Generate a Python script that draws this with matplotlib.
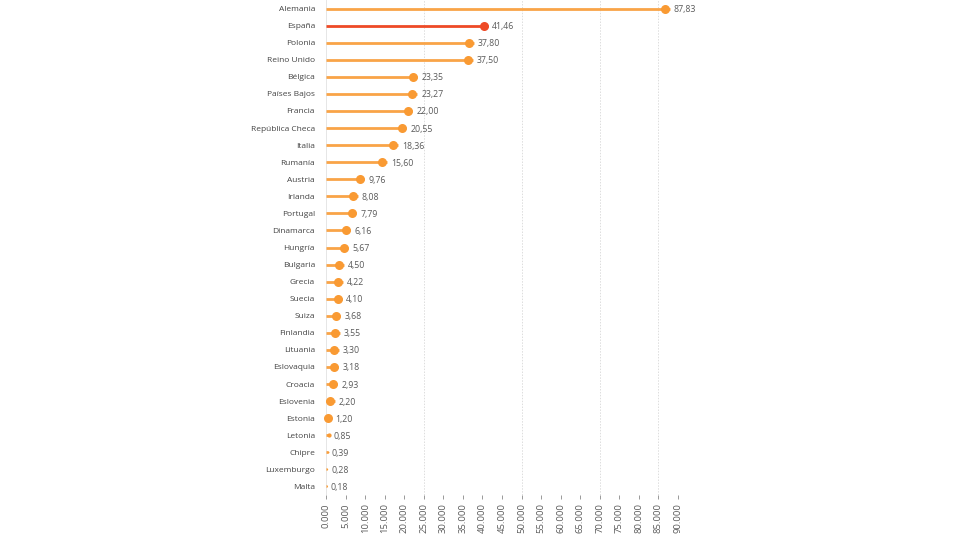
import matplotlib
matplotlib.use("Agg")
import matplotlib.pyplot as plt
from matplotlib.transforms import ScaledTranslation

countries = ["Alemania", "España", "Polonia", "Reino Unido", "Bélgica", "Países Bajos",
             "Francia", "República Checa", "Italia", "Rumanía", "Austria", "Irlanda",
             "Portugal", "Dinamarca", "Hungría", "Bulgaria", "Grecia", "Suecia", "Suiza",
             "Finlandia", "Lituania", "Eslovaquia", "Croacia", "Eslovenia", "Estonia",
             "Letonia", "Chipre", "Luxemburgo", "Malta"]
values = [87.83, 41.46, 37.80, 37.50, 23.35, 23.27, 22.00, 20.55, 18.36, 15.60, 9.76,
          8.08, 7.79, 6.16, 5.67, 4.50, 4.22, 4.10, 3.68, 3.55, 3.30, 3.18, 2.93, 2.20,
          1.20, 0.85, 0.39, 0.28, 0.18]
highlight = "España"
xticks = list(range(0, 91, 5))
xticklabels = [f"{t}.000" for t in xticks]
grid_at = [25, 50, 70, 85, 90]

ORANGE = "#F99A33"
LINE_ORANGE = "#F9A447"
RED = "#EE4A26"
TXT = "#5a5a5a"
CAT_TXT = "#444444"

plt.rcParams['font.family'] = ['Open Sans', 'DejaVu Sans']

fig = plt.figure(figsize=(9.8, 5.6), dpi=100)
ax_w_px = 678 - 326
ax = fig.add_axes([326/980, 1-495/560, ax_w_px/980, 495/560])
XMAX = 90
pts_per_unit = ax_w_px / XMAX * 72 / 100

n = len(countries)
ys = list(range(n))
for y, c, v in zip(ys, countries, values):
    col = RED if c == highlight else ORANGE
    lcol = RED if c == highlight else LINE_ORANGE
    ax.plot([0, v], [y, y], color=lcol, lw=2.0, solid_capstyle='butt', zorder=2)
    d = 6.5 if v >= 1.0 else max(0.8, v * 3.6)   # marker diameter, points
    if v >= 1.0:
        back = min(d / 2, max(v * pts_per_unit - 1.6, 0))
    else:
        back = 0
    shift = ScaledTranslation(-back / 72, 0, fig.dpi_scale_trans)
    ax.plot([v], [y], 'o', color=col, ms=d, mew=0, zorder=3,
            transform=ax.transData + shift, clip_on=False)
    ax.annotate(f"{v:.2f}".replace(".", ","), (v, y), xytext=(3, 0),
                textcoords='offset points', va='center_baseline', ha='left',
                fontsize=6.3, color=TXT, annotation_clip=False)

for g in grid_at:
    ax.axvline(g, color="#dddddd", lw=0.7, ls=(0, (1.5, 1.5)), zorder=0)
ax.axvline(0, color="#e6e6e6", lw=0.7, zorder=0)

ax.set_xlim(0, XMAX)
ax.set_ylim(n - 0.5, -0.5)
ax.set_yticks(ys)
ax.set_yticklabels(countries, fontsize=6.0, color=CAT_TXT, va='center_baseline')
ax.tick_params(axis='y', length=0, pad=8)
ax.set_xticks(xticks)
ax.set_xticklabels(xticklabels, rotation=90, fontsize=6.8, color=TXT)
ax.tick_params(axis='x', length=3, width=0.7, color="#999999", pad=3, direction='out')
for s in ax.spines.values():
    s.set_visible(False)

fig.savefig("out.png", dpi=100)
